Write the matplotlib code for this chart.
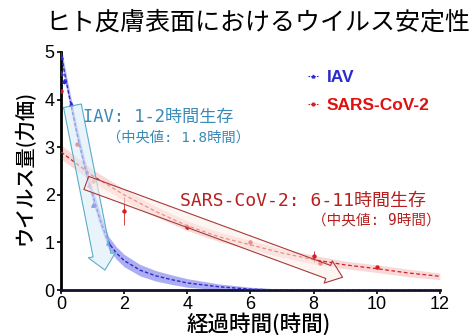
import matplotlib
matplotlib.use("Agg")
import matplotlib.pyplot as plt
from matplotlib.patches import FancyArrowPatch, ArrowStyle
from matplotlib.lines import Line2D

plt.rcParams['font.family'] = ['Noto Sans CJK JP', 'DejaVu Sans']

# ---- data ----
title = "ヒト皮膚表面におけるウイルス安定性"
xlabel = "経過時間(時間)"
ylabel = "ウイルス量(力価)"
x_ticks = [0, 2, 4, 6, 8, 10, 12]
y_ticks = [0, 1, 2, 3, 4, 5]

# fitted curves
iav_curve_x = [0, 0.1, 0.25, 0.5, 0.75, 1.0, 1.25, 1.5, 1.75, 2.0, 2.5, 3.0, 3.5, 4.0, 5.0, 6.0, 7.0, 8.0, 10.0, 12.0]
iav_curve_y = [5.0, 4.6, 4.1, 3.3, 2.6, 2.0, 1.45, 1.0, 0.78, 0.62, 0.42, 0.30, 0.22, 0.15, 0.07, 0.02, 0.0, 0.0, 0.0, 0.0]
iav_band = [0.14, 0.14, 0.14, 0.14, 0.14, 0.14, 0.13, 0.13, 0.13, 0.13, 0.12, 0.11, 0.1, 0.09, 0.06, 0.04, 0.02, 0.01, 0.01, 0.01]

sars_curve_x = [0, 1, 2, 3, 4, 5, 6, 7, 8, 9, 10, 11, 12]
sars_curve_y = [2.9, 2.4, 2.0, 1.65, 1.35, 1.12, 0.95, 0.78, 0.64, 0.53, 0.45, 0.36, 0.29]
sars_band = [0.15, 0.13, 0.12, 0.11, 0.1, 0.1, 0.09, 0.09, 0.09, 0.08, 0.08, 0.08, 0.07]

# observed points
iav_x = [0, 0, 0.1, 0.3, 0.9, 1.0, 1.5]
iav_y = [4.9, 4.55, 4.38, 3.9, 2.2, 1.79, 0.98]
iav_err = [0.05, 0.05, 0.05, 0.05, 0.05, 0.05, 0.05]

sars_x = [0, 0.5, 1.0, 2, 4, 6, 8, 8.2, 10]
sars_y = [4.17, 3.06, 2.3, 1.66, 1.33, 1.0, 0.71, 0.56, 0.48]
sars_err = [0.03, 0.03, 0.05, 0.3, 0.05, 0.05, 0.12, 0.03, 0.03]

iav_label = "IAV"
sars_label = "SARS-CoV-2"
iav_text1 = "IAV: 1-2時間生存"
iav_text2 = "（中央値: 1.8時間）"
sars_text1 = "SARS-CoV-2: 6-11時間生存"
sars_text2 = "（中央値: 9時間）"

# ---- figure ----
fig = plt.figure(figsize=(4.77, 3.35), dpi=100)
ax = fig.add_axes([0.128, 0.134, 0.794, 0.711])

blue = '#2a2ad0'
red = '#d42020'

lo = [c - b for c, b in zip(iav_curve_y, iav_band)]
hi = [c + b for c, b in zip(iav_curve_y, iav_band)]
ax.fill_between(iav_curve_x, lo, hi, color='#6a6ae8', alpha=0.55, lw=0, zorder=2)
ax.plot(iav_curve_x, iav_curve_y, ls=(0, (2.5, 1.5)), color=blue, lw=1.0, zorder=3)

lo = [c - b for c, b in zip(sars_curve_y, sars_band)]
hi = [c + b for c, b in zip(sars_curve_y, sars_band)]
ax.fill_between(sars_curve_x, lo, hi, color='#f08080', alpha=0.3, lw=0, zorder=2)
ax.plot(sars_curve_x, sars_curve_y, ls=(0, (3, 2)), color=red, lw=0.9, zorder=3)

ax.errorbar(iav_x, iav_y, yerr=iav_err, fmt='^', ms=2.5, color=blue, elinewidth=0.6, capsize=0, zorder=4)
ax.errorbar(sars_x, sars_y, yerr=sars_err, fmt='o', ms=2.2, color=red, elinewidth=0.6, capsize=0, zorder=4)

# hollow arrows
arr_b = FancyArrowPatch((0.36, 3.87), (1.39, 0.42),
                        arrowstyle=ArrowStyle.Simple(head_length=1.1, head_width=2.0, tail_width=1.3),
                        mutation_scale=10, fc=(0.85, 0.93, 0.97, 0.6), ec='#5aaec8', lw=0.8,
                        shrinkA=0, shrinkB=0, zorder=5)
ax.add_patch(arr_b)
arr_r = FancyArrowPatch((0.8, 2.25), (8.92, 0.27),
                        arrowstyle=ArrowStyle.Simple(head_length=1.1, head_width=1.7, tail_width=1.0),
                        mutation_scale=10, fc=(0.99, 0.93, 0.90, 0.55), ec='#a83a3a', lw=0.8,
                        shrinkA=0, shrinkB=0, zorder=5)
ax.add_patch(arr_r)

# annotations
ann_font = ['DejaVu Sans Mono', 'Noto Sans CJK JP']
ax.text(0.7, 3.63, iav_text1, color='#3a8ab8', fontsize=12.3, va='center', ha='left', zorder=6, family=ann_font)
ax.text(1.45, 3.21, iav_text2, color='#3a8ab8', fontsize=10.3, va='center', ha='left', zorder=6, family=ann_font)
ax.text(3.77, 1.87, sars_text1, color='#b82020', fontsize=13, va='center', ha='left', zorder=6, family=ann_font)
ax.text(7.95, 1.45, sars_text2, color='#b82020', fontsize=10.5, va='center', ha='left', zorder=6, family=ann_font)

# legend
handles = [Line2D([0], [0], ls=(0, (1.5, 1)), color=blue, marker='^', ms=2, lw=0.8),
           Line2D([0], [0], ls=(0, (1.5, 1)), color=red, marker='o', ms=2, lw=0.8)]
leg = ax.legend(handles, [iav_label, sars_label], loc='upper left', bbox_to_anchor=(0.61, 0.99),
                frameon=False, handlelength=0.6, handletextpad=0.5, labelspacing=0.75,
                prop={'family': 'Liberation Sans', 'weight': 'bold', 'size': 12.5},
                labelcolor=[blue, '#e01010'])

ax.set_xlim(0, 12)
ax.set_ylim(0, 5)
ax.set_xticks(x_ticks)
ax.set_yticks(y_ticks)
for lab in ax.get_xticklabels() + ax.get_yticklabels():
    lab.set_fontfamily('Liberation Sans')
    lab.set_fontsize(13)
ax.tick_params(length=3, width=1.2, pad=1.5)
for s in ['top', 'right']:
    ax.spines[s].set_visible(False)
ax.spines['left'].set_linewidth(2)
ax.spines['bottom'].set_linewidth(2)
ax.spines['bottom'].set_color('#101030')

fig.text(0.54, 0.934, title, fontsize=18, ha='center', va='center')
fig.text(0.543, 0.031, xlabel, fontsize=15.5, ha='center', va='center', weight='medium')
fig.text(0.05, 0.50, ylabel, fontsize=14.5, ha='center', va='center', rotation=90, weight='medium')

fig.savefig('out.png', dpi=100)
